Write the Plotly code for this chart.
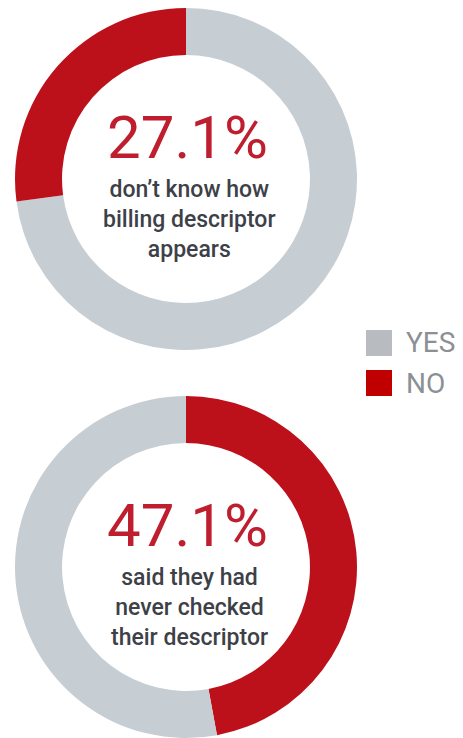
import plotly.graph_objects as go

W, H = 463, 738

labels = ["YES", "NO"]
billing_values = [72.9, 27.1]      # don't know how billing descriptor appears
checked_values = [52.9, 47.1]      # never checked their descriptor

colors = {"YES": "#C6CDD3", "NO": "#BC111B"}
legend_colors = {"YES": "#B8BBBF", "NO": "#C00000"}

pct_top = "27.1%"
pct_bottom = "47.1%"
sub_top = "don’t know how<br>billing descriptor<br>appears"
sub_bottom = "said they had<br>never checked<br>their descriptor"


def px_x(x):
    return x / W


def px_y(y):
    return 1 - y / H


fig = go.Figure()

# top donut: YES first clockwise from 12 o'clock, NO closes the ring
fig.add_trace(go.Pie(
    labels=labels, values=billing_values, hole=0.725, sort=False,
    direction="clockwise", rotation=0,
    marker=dict(colors=[colors[l] for l in labels], line=dict(width=0)),
    textinfo="none", hoverinfo="skip", showlegend=False,
    domain=dict(x=[px_x(15), px_x(357)], y=[px_y(350), px_y(8)]),
))

# bottom donut: NO first clockwise from 12 o'clock
order_b = ["NO", "YES"]
vals_b = [checked_values[1], checked_values[0]]
fig.add_trace(go.Pie(
    labels=order_b, values=vals_b, hole=0.725, sort=False,
    direction="clockwise", rotation=0,
    marker=dict(colors=[colors[l] for l in order_b], line=dict(width=0)),
    textinfo="none", hoverinfo="skip", showlegend=False,
    domain=dict(x=[px_x(15), px_x(357)], y=[px_y(738), px_y(396)]),
))

annotations = []
for cy, pct, sub in [(179, pct_top, sub_top), (567, pct_bottom, sub_bottom)]:
    annotations.append(dict(
        x=px_x(187), y=px_y(cy - 42), xref="paper", yref="paper",
        text=pct, showarrow=False, xanchor="center", yanchor="middle",
        font=dict(family="Roboto", size=60, color="#BE1E2D"),
    ))
    annotations.append(dict(
        x=px_x(189), y=px_y(cy + 40), xref="paper", yref="paper",
        text=sub, showarrow=False, xanchor="center", yanchor="middle",
        font=dict(family="Roboto", size=23, color="#3D4147", weight=500),
    ))

# legend
shapes = []
for i, lab in enumerate(labels):
    top = 330 + i * 40
    shapes.append(dict(
        type="rect", xref="paper", yref="paper",
        x0=px_x(366), x1=px_x(392), y0=px_y(top + 26), y1=px_y(top),
        fillcolor=legend_colors[lab], line=dict(width=0),
    ))
    annotations.append(dict(
        x=px_x(404), y=px_y(top + 13), xref="paper", yref="paper",
        text=lab, showarrow=False, xanchor="left", yanchor="middle",
        font=dict(family="Roboto", size=28, color="#8B9095"),
    ))

fig.update_layout(
    width=W, height=H,
    margin=dict(l=0, r=0, t=0, b=0),
    paper_bgcolor="white", plot_bgcolor="white",
    annotations=annotations, shapes=shapes,
)

fig.write_html("out.html")
